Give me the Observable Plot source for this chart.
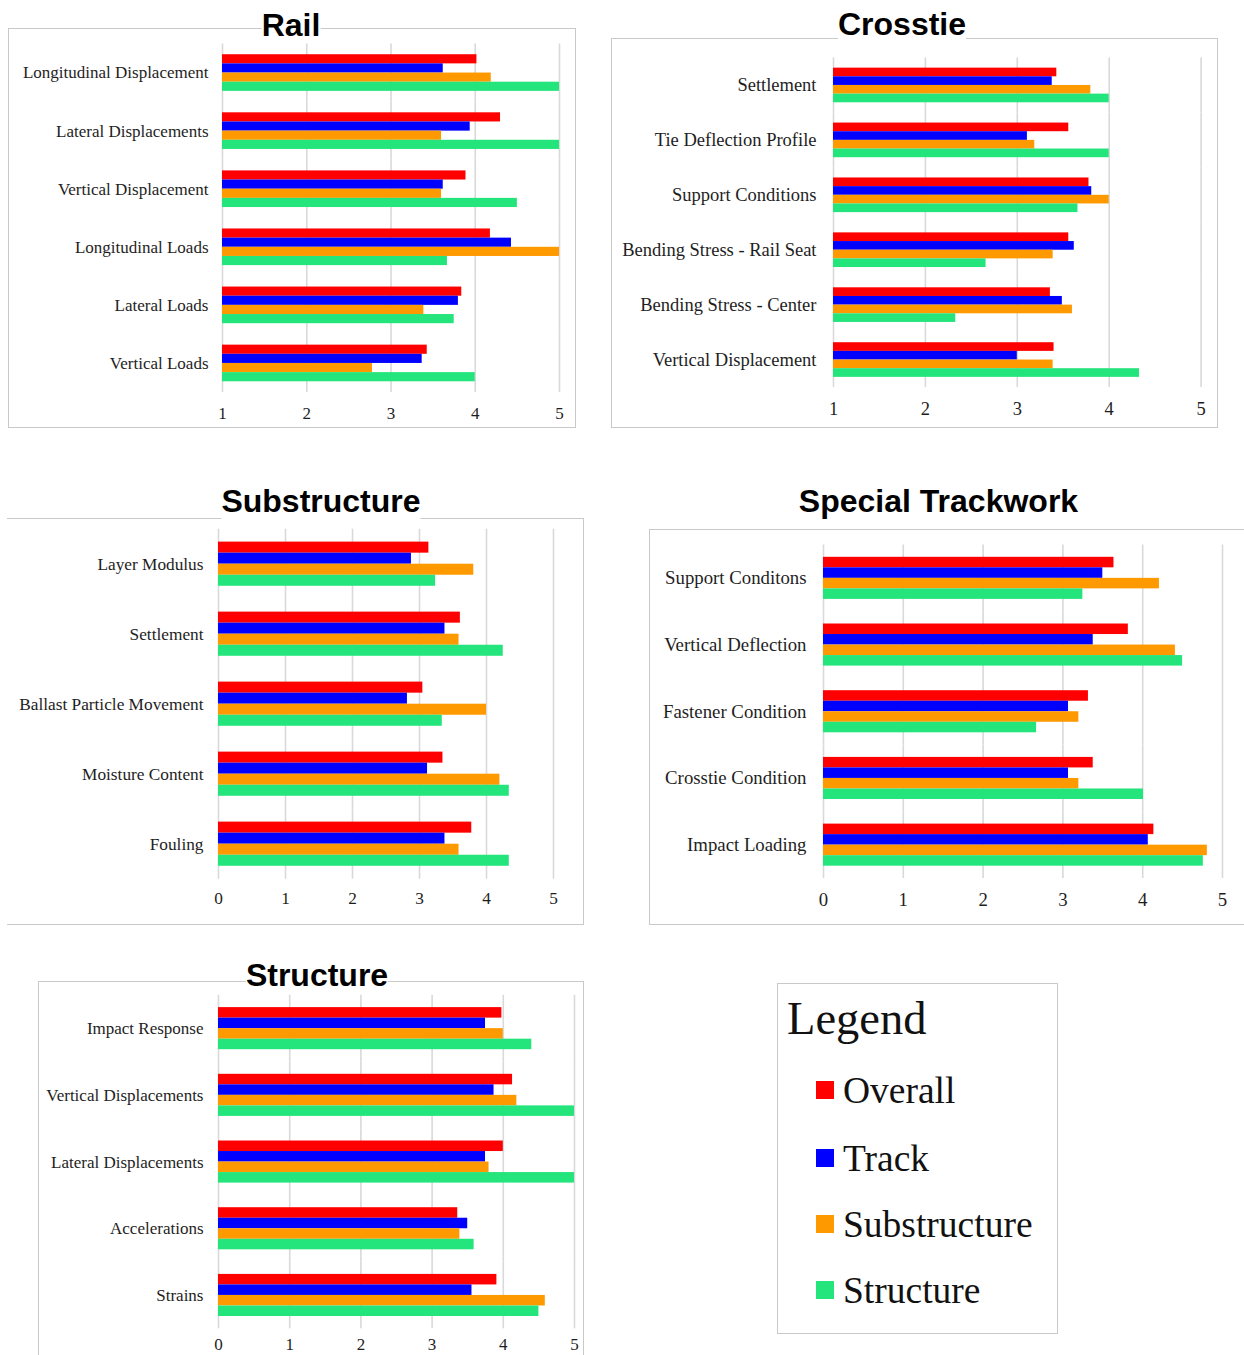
<!DOCTYPE html>
<html>
<head>
<meta charset="utf-8">
<script src="https://cdn.jsdelivr.net/npm/d3@7"></script>
<script src="https://cdn.jsdelivr.net/npm/@observablehq/plot@0.6"></script>
<style>
  html, body { margin: 0; padding: 0; background: #fff; }
  #page { position: relative; width: 1244px; height: 1355px; overflow: hidden; background: #fff; }
  .box { position: absolute; border: 1px solid #c9c9c9; box-sizing: border-box; }
  .chart { position: absolute; }
  .title { position: absolute; font-family: "Liberation Sans", Arial, sans-serif; font-weight: bold; font-size: 32px; line-height: 32px; color: #000; transform: translateX(-50%); white-space: nowrap; }
  .title span { background: #fff; }
  .leg { position: absolute; font-family: "Liberation Serif", "Times New Roman", serif; color: #111; line-height: 1; white-space: nowrap; }
  .sw { position: absolute; }
</style>
</head>
<body>
<div id="page"></div>
<script>
// ---- series ----
const series = ["Overall", "Track", "Substructure", "Structure"];
const colors = ["#ff0000", "#0000ff", "#ff9900", "#24e47c"];

// ---- Rail ----
const railCategories = ["Longitudinal Displacement", "Lateral Displacements", "Vertical Displacement", "Longitudinal Loads", "Lateral Loads", "Vertical Loads"];
const railOverall      = [4.02, 4.30, 3.89, 4.18, 3.84, 3.43];
const railTrack        = [3.62, 3.94, 3.62, 4.43, 3.80, 3.37];
const railSubstructure = [4.19, 3.60, 3.60, 5.00, 3.39, 2.78];
const railStructure    = [5.00, 5.00, 4.50, 3.67, 3.75, 4.00];
const railTicks = [1, 2, 3, 4, 5];

// ---- Crosstie ----
const crosstieCategories = ["Settlement", "Tie Deflection Profile", "Support Conditions", "Bending Stress - Rail Seat", "Bending Stress - Center", "Vertical Displacement"];
const crosstieOverall      = [3.43, 3.56, 3.78, 3.56, 3.36, 3.40];
const crosstieTrack        = [3.38, 3.11, 3.81, 3.62, 3.49, 3.00];
const crosstieSubstructure = [3.80, 3.19, 4.00, 3.39, 3.60, 3.39];
const crosstieStructure    = [4.00, 4.00, 3.66, 2.66, 2.33, 4.33];
const crosstieTicks = [1, 2, 3, 4, 5];

// ---- Substructure ----
const substructureCategories = ["Layer Modulus", "Settlement", "Ballast Particle Movement", "Moisture Content", "Fouling"];
const substructureOverall      = [3.14, 3.61, 3.05, 3.35, 3.78];
const substructureTrack        = [2.88, 3.38, 2.82, 3.12, 3.38];
const substructureSubstructure = [3.81, 3.59, 4.00, 4.20, 3.59];
const substructureStructure    = [3.24, 4.25, 3.34, 4.34, 4.34];
const substructureTicks = [0, 1, 2, 3, 4, 5];

// ---- Special Trackwork ----
const specialCategories = ["Support Conditons", "Vertical Deflection", "Fastener Condition", "Crosstie Condition", "Impact Loading"];
const specialOverall      = [3.64, 3.82, 3.32, 3.38, 4.14];
const specialTrack        = [3.50, 3.38, 3.07, 3.07, 4.07];
const specialSubstructure = [4.21, 4.41, 3.20, 3.20, 4.81];
const specialStructure    = [3.25, 4.50, 2.67, 4.01, 4.76];
const specialTicks = [0, 1, 2, 3, 4, 5];

// ---- Structure ----
const structureCategories = ["Impact Response", "Vertical Displacements", "Lateral Displacements", "Accelerations", "Strains"];
const structureOverall      = [3.98, 4.13, 4.00, 3.36, 3.91];
const structureTrack        = [3.75, 3.87, 3.75, 3.50, 3.56];
const structureSubstructure = [4.00, 4.19, 3.80, 3.39, 4.59];
const structureStructure    = [4.40, 5.00, 5.00, 3.59, 4.50];
const structureTicks = [0, 1, 2, 3, 4, 5];

const page = document.getElementById("page");
const serif = "'Liberation Serif', 'Times New Roman', serif";

function addBox(left, top, width, height, sides) {
  const d = document.createElement("div");
  d.className = "box";
  Object.assign(d.style, {left: left + "px", top: top + "px", width: width + "px", height: height + "px"});
  if (sides) for (const s of sides) d.style["border" + s] = "none";
  page.appendChild(d);
}

function addTitle(text, cx, top) {
  const d = document.createElement("div");
  d.className = "title";
  d.style.left = cx + "px";
  d.style.top = top + "px";
  const s = document.createElement("span");
  s.textContent = text;
  d.appendChild(s);
  page.appendChild(d);
}

function panel(cfg) {
  const data = [];
  cfg.cats.forEach((c, i) => series.forEach((s, j) => data.push({category: c, series: s, value: cfg.vals[j][i]})));
  const x0 = cfg.ticks[0];
  const chart = Plot.plot({
    width: cfg.width,
    height: cfg.height,
    marginTop: cfg.mt,
    marginBottom: cfg.mb,
    marginLeft: cfg.ml,
    marginRight: cfg.mr,
    style: {fontFamily: serif, fontSize: cfg.fs + "px", color: "#1e1e1e", background: "transparent", overflow: "visible"},
    x: {domain: [cfg.ticks[0], cfg.ticks[cfg.ticks.length - 1]]},
    y: {domain: series, axis: null, paddingInner: 0, paddingOuter: 1.17, round: false},
    fy: {domain: cfg.cats, paddingInner: 0, paddingOuter: 0, round: false, label: null},
    color: {domain: series, range: colors},
    marks: [
      Plot.gridX({ticks: cfg.ticks, stroke: "#d9d9d9", strokeOpacity: 1, strokeWidth: 1.6}),
      Plot.barX(data, {x1: x0, x2: "value", y: "series", fy: "category", fill: "series", inset: 0}),
      Plot.axisX({ticks: cfg.ticks, tickFormat: d3.format("d"), tickSize: 0, tickPadding: cfg.xp, label: null, fontSize: cfg.fs, fontFamily: serif}),
      Plot.axisFy({anchor: "left", tickSize: 0, tickPadding: cfg.tp, label: null, fontSize: cfg.fs, fontFamily: serif})
    ]
  });
  chart.classList.add("chart");
  chart.style.left = cfg.left + "px";
  chart.style.top = cfg.top + "px";
  page.appendChild(chart);
}

// Boxes
addBox(8, 28, 568, 400);
addBox(611, 38, 607, 390);
addBox(7, 518, 577, 407, ["Left"]);
addBox(649, 529, 600, 396, ["Right"]);
addBox(38, 981, 546, 420, ["Bottom"]);

// Panels
panel({cats: railCategories, vals: [railOverall, railTrack, railSubstructure, railStructure], ticks: railTicks,
  left: 8, top: 28, width: 567, height: 399, mt: 15.5, mb: 35, ml: 214, mr: 16, tp: 14, xp: 14, fs: 17});
panel({cats: crosstieCategories, vals: [crosstieOverall, crosstieTrack, crosstieSubstructure, crosstieStructure], ticks: crosstieTicks,
  left: 611, top: 38, width: 606, height: 389, mt: 19.5, mb: 40, ml: 222, mr: 16.4, tp: 17, xp: 14, fs: 18.5});
panel({cats: substructureCategories, vals: [substructureOverall, substructureTrack, substructureSubstructure, substructureStructure], ticks: substructureTicks,
  left: 7, top: 518, width: 576, height: 406, mt: 10.7, mb: 45.3, ml: 211, mr: 30, tp: 15, xp: 13, fs: 17.3});
panel({cats: specialCategories, vals: [specialOverall, specialTrack, specialSubstructure, specialStructure], ticks: specialTicks,
  left: 649, top: 529, width: 595, height: 395, mt: 15.5, mb: 46, ml: 174, mr: 22, tp: 17, xp: 14, fs: 18.8});
panel({cats: structureCategories, vals: [structureOverall, structureTrack, structureSubstructure, structureStructure], ticks: structureTicks,
  left: 38, top: 981, width: 545, height: 400, mt: 13.8, mb: 52.7, ml: 180, mr: 9, tp: 15, xp: 9, fs: 17});

// Titles
addTitle("Rail", 291, 9);
addTitle("Crosstie", 902, 8);
addTitle("Substructure", 321, 485);
addTitle("Special Trackwork", 938.5, 484.6);
addTitle("Structure", 317, 958.6);

// Legend
addBox(777, 983, 281, 351);
(function () {
  const t = document.createElement("div");
  t.className = "leg";
  t.style.fontSize = "46.5px";
  t.style.left = "787px";
  t.style.top = (1035 - 0.8375 * 46.5) + "px";
  t.textContent = "Legend";
  page.appendChild(t);
  const baselines = [1103, 1171, 1237, 1303];
  series.forEach((s, i) => {
    const sw = document.createElement("div");
    sw.className = "sw";
    Object.assign(sw.style, {left: "816px", top: (baselines[i] - 22) + "px", width: "17.5px", height: "18px", background: colors[i]});
    page.appendChild(sw);
    const l = document.createElement("div");
    l.className = "leg";
    l.style.fontSize = "37.5px";
    l.style.left = "843px";
    l.style.top = (baselines[i] - 0.8375 * 37.5) + "px";
    l.textContent = s;
    page.appendChild(l);
  });
})();
</script>
</body>
</html>
